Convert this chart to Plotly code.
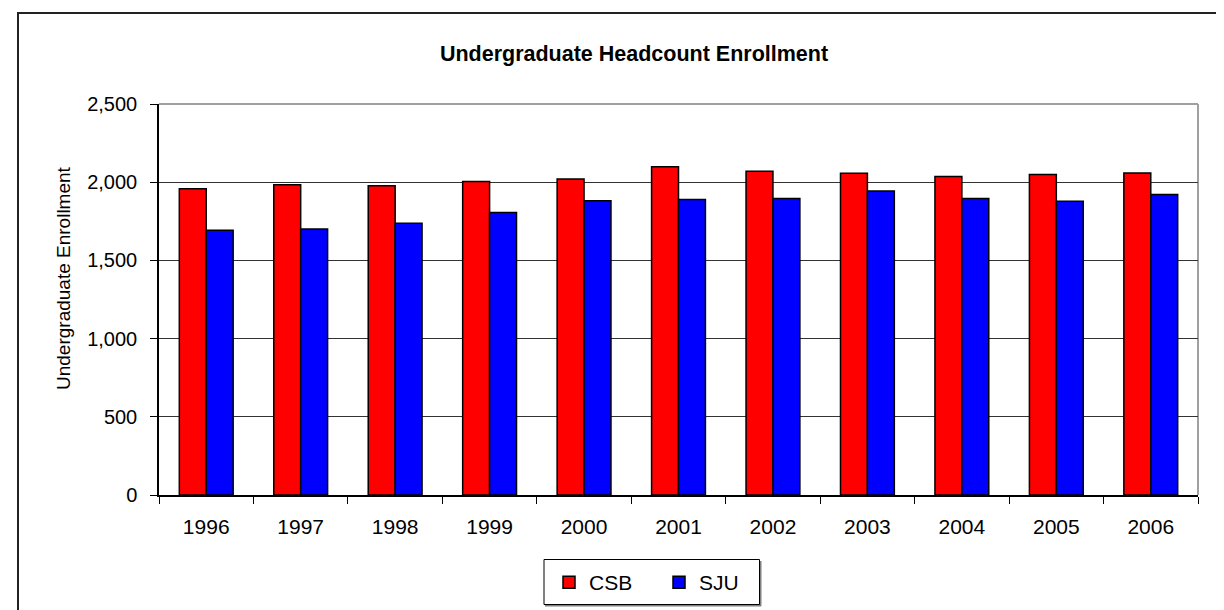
import plotly.graph_objects as go

years = ["1996", "1997", "1998", "1999", "2000", "2001", "2002", "2003", "2004", "2005", "2006"]
csb = [1958, 1983, 1977, 2004, 2021, 2099, 2070, 2057, 2036, 2049, 2059]
sju = [1692, 1700, 1738, 1806, 1882, 1890, 1896, 1943, 1896, 1878, 1922]

W, H = 1224, 610
L, R, T, B = 151, 1190, 96, 487
pw, ph = R - L, B - T

def px(x):
    return (x - L) / pw

def py(y):
    return (B - y) / ph

FONT = "Liberation Sans, Arial, sans-serif"

fig = go.Figure()
fig.add_trace(go.Bar(name="CSB", x=years, y=csb,
                     marker=dict(color="#FF0000", line=dict(color="#000000", width=1.5))))
fig.add_trace(go.Bar(name="SJU", x=years, y=sju,
                     marker=dict(color="#0000FF", line=dict(color="#000000", width=1.5))))

fig.update_layout(
    width=W, height=H,
    margin=dict(l=L, r=W - R, t=T, b=H - B, pad=0),
    paper_bgcolor="white", plot_bgcolor="white",
    font=dict(family=FONT, size=20, color="#000000"),
    barmode="group", bargap=0.43, bargroupgap=0,
    title=dict(text="<b>Undergraduate Headcount Enrollment</b>",
               x=626 / W, xanchor="center", y=1 - 45 / H, yanchor="middle",
               font=dict(family=FONT, size=21.5, color="#000000")),
    showlegend=True,
    legend=dict(orientation="h", x=px(541), xanchor="left", y=py(574.5), yanchor="middle",
                borderwidth=0, bgcolor="rgba(0,0,0,0)",
                font=dict(family=FONT, size=21, color="#000000"),
                itemwidth=30, entrywidth=65, entrywidthmode="pixels", tracegroupgap=0),
    xaxis=dict(type="category", showgrid=False, showline=True, linecolor="#000000", linewidth=1.5,
               ticks="outside", tickson="boundaries", ticklen=7, tickcolor="#000000", tickwidth=1,
               ticklabelstandoff=12,
               tickfont=dict(family=FONT, size=21, color="#000000")),
    yaxis=dict(range=[0, 2500], dtick=500, tickformat=",", showgrid=True, gridcolor="#333333", gridwidth=1,
               showline=True, linecolor="#000000", linewidth=1.5, ticks="outside", ticklen=7,
               tickcolor="#000000", ticklabelstandoff=9,
               tickfont=dict(family=FONT, size=20, color="#000000"),
               zeroline=False),
    annotations=[
        dict(text="Undergraduate Enrollment", xref="paper", yref="paper",
             x=px(55), y=py(270), xanchor="center", yanchor="middle", textangle=-90,
             showarrow=False, font=dict(family=FONT, size=19, color="#000000")),
    ],
    shapes=[
        # plot area border (grey top/right)
        dict(type="line", xref="paper", yref="paper", x0=0, x1=1, y0=1, y1=1,
             line=dict(color="#a0a0a0", width=2), layer="below"),
        dict(type="line", xref="paper", yref="paper", x0=1, x1=1, y0=0, y1=1,
             line=dict(color="#a0a0a0", width=2), layer="below"),
        # legend box with shadow
        dict(type="line", xref="paper", yref="paper", x0=px(537), x1=px(753), y0=py(597.5), y1=py(597.5),
             line=dict(color="#808080", width=2)),
        dict(type="line", xref="paper", yref="paper", x0=px(752.5), x1=px(752.5), y0=py(553), y1=py(598),
             line=dict(color="#808080", width=2)),
        dict(type="rect", xref="paper", yref="paper", x0=px(536), x1=px(751.5), y0=py(596.5), y1=py(551.5),
             line=dict(color="#000000", width=1), fillcolor="rgba(0,0,0,0)"),
        # outer chart border
        dict(type="rect", xref="paper", yref="paper", x0=px(10), x1=px(1260), y0=py(620), y1=py(5),
             line=dict(color="#222222", width=2), fillcolor="rgba(0,0,0,0)"),
    ],
)

fig.write_html("out.html")
